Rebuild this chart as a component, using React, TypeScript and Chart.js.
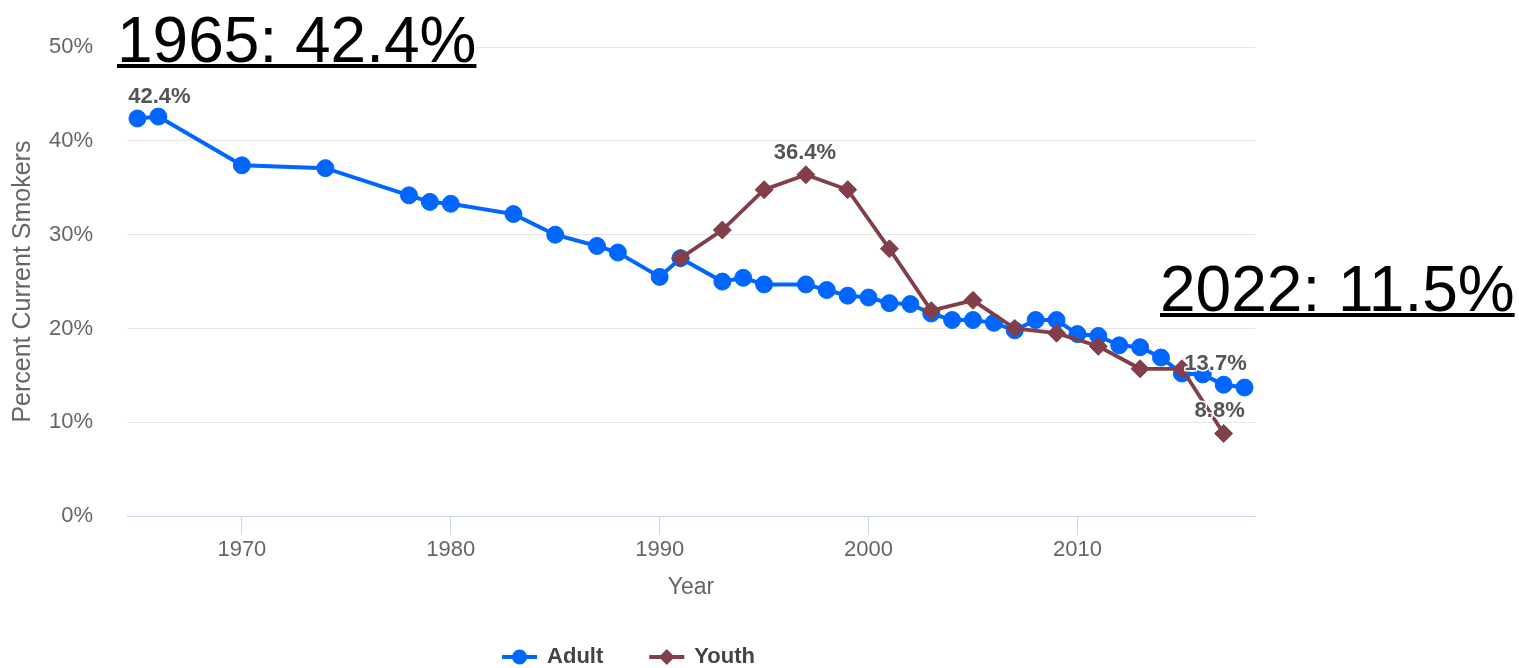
import React, { useEffect, useRef } from 'react';
import { Chart, registerables } from 'chart.js';

Chart.register(...registerables);

const FONT = '"Liberation Sans", Arial, Helvetica, sans-serif';

// ---- data ----
const seriesNames = ['Adult', 'Youth'];
const adultYears = [
  1965, 1966, 1970, 1974, 1978, 1979, 1980, 1983, 1985, 1987, 1988, 1990, 1991,
  1993, 1994, 1995, 1997, 1998, 1999, 2000, 2001, 2002, 2003, 2004, 2005, 2006,
  2007, 2008, 2009, 2010, 2011, 2012, 2013, 2014, 2015, 2016, 2017, 2018,
];
const adultValues = [
  42.4, 42.6, 37.4, 37.1, 34.2, 33.5, 33.3, 32.2, 30.0, 28.8, 28.1, 25.5, 27.5,
  25.0, 25.4, 24.7, 24.7, 24.1, 23.5, 23.3, 22.7, 22.6, 21.6, 20.9, 20.9, 20.6,
  19.8, 20.9, 20.9, 19.4, 19.2, 18.2, 18.0, 16.9, 15.2, 15.1, 14.0, 13.7,
];
const youthYears = [1991, 1993, 1995, 1997, 1999, 2001, 2003, 2005, 2007, 2009, 2011, 2013, 2015, 2017];
const youthValues = [27.5, 30.5, 34.8, 36.4, 34.8, 28.5, 21.9, 23.0, 20.0, 19.5, 18.1, 15.7, 15.7, 8.8];

const xTickValues = [1970, 1980, 1990, 2000, 2010];
const yTickValues = [0, 10, 20, 30, 40, 50];
const xTitle = 'Year';
const yTitle = 'Percent Current Smokers';
const headlineLeft = '1965: 42.4%';
const headlineRight = '2022: 11.5%';

// points that carry a value label: [series index, year]
const labelledSeries = [0, 1, 0, 1];
const labelledYears = [1965, 1997, 2018, 2017];
const labelOffsetX = [22, -1, -29, -4];
const labelOffsetY = [-22, -22, -24, -23];

const ADULT_COLOR = '#0066ff';
const YOUTH_COLOR = '#823f4a';

export default function App() {
  const ref = useRef<HTMLCanvasElement | null>(null);

  useEffect(() => {
    const canvas = ref.current;
    if (!canvas) return;

    const dataLabels = {
      id: 'dataLabels',
      afterDatasetsDraw(chart: any) {
        const ctx = chart.ctx;
        ctx.save();
        ctx.font = `bold 22px ${FONT}`;
        ctx.textAlign = 'center';
        ctx.textBaseline = 'middle';
        ctx.lineJoin = 'round';
        labelledSeries.forEach((s, k) => {
          const years = s === 0 ? adultYears : youthYears;
          const values = s === 0 ? adultValues : youthValues;
          const i = years.indexOf(labelledYears[k]);
          const pt = chart.getDatasetMeta(s).data[i];
          if (!pt) return;
          const text = values[i].toFixed(1) + '%';
          const x = pt.x + labelOffsetX[k];
          const y = pt.y + labelOffsetY[k];
          ctx.strokeStyle = '#ffffff';
          ctx.lineWidth = 3;
          ctx.strokeText(text, x, y);
          ctx.fillStyle = '#555555';
          ctx.fillText(text, x, y);
        });
        ctx.restore();
      },
    };

    const customLegend = {
      id: 'customLegend',
      afterDraw(chart: any) {
        const ctx = chart.ctx;
        ctx.save();
        ctx.font = `bold 22px ${FONT}`;
        ctx.textBaseline = 'middle';
        ctx.textAlign = 'left';
        const sym = 35;
        const gap = 10;
        const itemGap = 46;
        const widths = seriesNames.map((n) => ctx.measureText(n).width);
        const total = widths.reduce((a, w) => a + sym + gap + w, 0) + itemGap * (seriesNames.length - 1);
        let x = chart.width / 2 - total / 2 - 4;
        const y = 657;
        seriesNames.forEach((name, i) => {
          const color = i === 0 ? ADULT_COLOR : YOUTH_COLOR;
          ctx.strokeStyle = color;
          ctx.fillStyle = color;
          ctx.lineWidth = 4;
          ctx.beginPath();
          ctx.moveTo(x, y);
          ctx.lineTo(x + sym, y);
          ctx.stroke();
          const cx = x + sym / 2;
          ctx.beginPath();
          if (i === 0) {
            ctx.arc(cx, y, 7.5, 0, Math.PI * 2);
          } else {
            ctx.moveTo(cx - 8, y);
            ctx.lineTo(cx, y - 8);
            ctx.lineTo(cx + 8, y);
            ctx.lineTo(cx, y + 8);
            ctx.closePath();
          }
          ctx.fill();
          ctx.fillStyle = '#444444';
          ctx.fillText(name, x + sym + gap, y);
          x += sym + gap + widths[i] + itemGap;
        });
        ctx.restore();
      },
    };

    const chart = new Chart(canvas, {
      type: 'line',
      data: {
        datasets: [
          {
            label: seriesNames[0],
            data: adultYears.map((yr, i) => ({ x: yr, y: adultValues[i] })),
            borderColor: ADULT_COLOR,
            backgroundColor: ADULT_COLOR,
            borderWidth: 4,
            pointStyle: 'circle',
            pointRadius: 8.5,
            pointHoverRadius: 8.5,
            pointBorderWidth: 1,
            pointBorderColor: ADULT_COLOR,
            pointBackgroundColor: ADULT_COLOR,
            tension: 0,
            order: 1,
          },
          {
            label: seriesNames[1],
            data: youthYears.map((yr, i) => ({ x: yr, y: youthValues[i] })),
            borderColor: YOUTH_COLOR,
            backgroundColor: YOUTH_COLOR,
            borderWidth: 3.8,
            pointStyle: 'rectRot',
            pointRadius: 9,
            pointHoverRadius: 9,
            pointBorderWidth: 1,
            pointBorderColor: YOUTH_COLOR,
            pointBackgroundColor: YOUTH_COLOR,
            tension: 0,
            order: 0,
          },
        ],
      },
      options: {
        responsive: false,
        animation: false,
        devicePixelRatio: 1,
        layout: { padding: { left: 0, right: 7, top: 47, bottom: 67 } },
        plugins: {
          legend: { display: false },
          tooltip: { enabled: false },
          title: { display: false },
        },
        scales: {
          x: {
            type: 'linear',
            min: 1964.5,
            max: 2018.5,
            afterBuildTicks: (scale: any) => {
              scale.ticks = xTickValues.map((v) => ({ value: v }));
            },
            afterFit: (scale: any) => {
              scale.height = 85;
            },
            grid: {
              drawOnChartArea: false,
              drawTicks: true,
              tickLength: 19,
              color: '#ccd6eb',
              lineWidth: 1,
            },
            border: { display: true, color: '#ccd6eb', width: 1 },
            ticks: {
              padding: 2,
              color: '#666666',
              font: { family: FONT, size: 22 },
              maxRotation: 0,
              autoSkip: false,
              callback: (v: any) => String(v),
            },
            title: {
              display: true,
              text: xTitle,
              color: '#666666',
              font: { family: FONT, size: 23 },
              padding: { top: 0, bottom: 0 },
            },
          },
          y: {
            type: 'linear',
            min: 0,
            max: 50,
            afterBuildTicks: (scale: any) => {
              scale.ticks = yTickValues.map((v) => ({ value: v }));
            },
            afterFit: (scale: any) => {
              scale.width = 127;
            },
            grid: {
              color: '#e6e6e6',
              lineWidth: 1,
              drawTicks: false,
            },
            border: { display: false },
            ticks: {
              padding: 34,
              color: '#666666',
              font: { family: FONT, size: 22 },
              callback: (v: any) => v + '%',
            },
            title: {
              display: true,
              text: yTitle,
              color: '#666666',
              font: { family: FONT, size: 25 },
              padding: { top: 8, bottom: 0 },
            },
          },
        },
      },
      plugins: [dataLabels, customLegend],
    });

    return () => chart.destroy();
  }, []);

  const headline: React.CSSProperties = {
    position: 'absolute',
    fontFamily: FONT,
    fontSize: 64,
    lineHeight: '64px',
    color: '#000',
    textDecoration: 'underline',
    textDecorationThickness: '4px',
    whiteSpace: 'nowrap',
    background: '#fff',
  };

  return (
    <div
      style={{
        position: 'fixed',
        left: 0,
        top: 0,
        width: 1519,
        height: 668,
        background: '#fff',
        overflow: 'hidden',
      }}
    >
      <canvas
        ref={ref}
        width={1265}
        height={668}
        style={{ position: 'absolute', left: 0, top: 0, width: 1265, height: 668 }}
      />
      <div style={{ ...headline, left: 117, top: 8 }}>{headlineLeft}</div>
      <div style={{ ...headline, left: 1160, top: 257, background: 'transparent' }}>{headlineRight}</div>
    </div>
  );
}
